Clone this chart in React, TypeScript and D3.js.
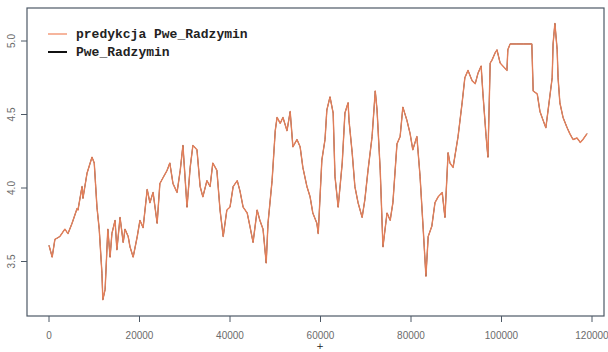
import React from 'react';
import * as d3 from 'd3';

// readings (index in thousands, value)
const xs = [
  0, 0.7, 1.3, 2.4, 3.5, 4.2, 5.1, 6.2, 6.4, 7.3, 7.5, 8.4, 9.1, 9.5, 10.0, 10.6, 11.1, 11.7, 11.9, 12.4,
  13.0, 13.5, 13.9, 14.6, 15.0, 15.7, 16.4, 16.8, 17.5, 17.9, 18.6, 19.5, 20.1, 20.8, 21.7, 22.3, 23.0, 23.9, 24.5, 25.2,
  26.1, 26.7, 27.4, 28.3, 29.0, 29.6, 30.5, 31.2, 31.8, 32.7, 33.4, 34.0, 34.9, 35.6, 36.2, 37.1, 37.8, 38.5, 39.3, 40.0,
  40.7, 41.6, 42.2, 42.9, 43.8, 44.4, 45.1, 46.0, 46.6, 47.3, 48.0, 48.4, 49.3, 50.0, 50.4, 51.1, 51.7, 52.6, 53.3, 53.9,
  54.8, 55.5, 56.1, 57.0, 57.7, 58.3, 59.2, 59.5, 60.3, 61.0, 61.4, 62.1, 62.8, 63.2, 63.9, 64.8, 65.4, 66.1, 66.3, 67.0,
  67.6, 68.3, 69.2, 69.8, 70.5, 71.4, 72.1, 72.5, 73.2, 73.8, 74.7, 75.4, 76.0, 76.9, 77.6, 78.2, 79.1, 79.8, 80.4, 81.3,
  82.0, 82.7, 83.3, 83.8, 84.6, 85.3, 86.0, 86.9, 87.5, 88.2, 88.6, 89.3, 90.4, 91.3, 91.9, 92.6, 93.5, 94.2, 94.8, 95.5,
  95.9, 96.6, 97.0, 97.5, 97.9, 98.6, 99.0, 99.7, 100.3, 101.2, 101.4, 101.9, 103.4, 104.8, 106.7, 107.0, 107.9, 108.5, 109.2, 109.8,
  110.3, 111.2, 111.4, 111.8, 112.3, 112.5, 112.9, 113.6, 114.5, 115.1, 115.8, 116.7, 117.4, 118.0, 118.9,
];
const values = [
  3.61, 3.53, 3.65, 3.67, 3.72, 3.69, 3.76, 3.86, 3.85, 4.01, 3.93, 4.10, 4.17, 4.21, 4.17, 3.87, 3.72, 3.42, 3.24, 3.31,
  3.72, 3.53, 3.69, 3.78, 3.58, 3.80, 3.63, 3.72, 3.67, 3.60, 3.53, 3.67, 3.78, 3.73, 3.99, 3.90, 3.97, 3.76, 4.03, 4.07,
  4.12, 4.17, 4.03, 3.97, 4.12, 4.29, 3.87, 4.14, 4.29, 4.26, 4.01, 3.94, 4.05, 4.01, 4.17, 4.12, 3.85, 3.67, 3.85, 3.87,
  4.01, 4.05, 3.98, 3.87, 3.83, 3.74, 3.63, 3.85, 3.78, 3.72, 3.49, 3.76, 4.05, 4.39, 4.48, 4.44, 4.48, 4.39, 4.52, 4.28,
  4.33, 4.28, 4.14, 4.01, 3.94, 3.83, 3.76, 3.69, 4.19, 4.33, 4.53, 4.62, 4.51, 4.08, 3.87, 4.17, 4.51, 4.58, 4.46, 4.24,
  4.01, 3.90, 3.80, 3.92, 4.12, 4.35, 4.66, 4.53, 4.12, 3.60, 3.83, 3.78, 3.90, 4.30, 4.35, 4.55, 4.46, 4.37, 4.26, 4.35,
  4.08, 3.72, 3.40, 3.67, 3.74, 3.90, 3.94, 3.97, 3.80, 4.24, 4.17, 4.14, 4.35, 4.58, 4.75, 4.80, 4.73, 4.71, 4.78, 4.83,
  4.64, 4.35, 4.21, 4.85, 4.87, 4.92, 4.94, 4.85, 4.83, 4.80, 4.94, 4.98, 4.98, 4.98, 4.98, 4.66, 4.64, 4.52, 4.46, 4.41,
  4.53, 4.75, 4.98, 5.12, 4.94, 4.75, 4.58, 4.48, 4.41, 4.37, 4.33, 4.34, 4.31, 4.33, 4.37,
];

const xTicks = [0, 20000, 40000, 60000, 80000, 100000, 120000];
const yTicks = [3.5, 4.0, 4.5, 5.0];
const legendLabels = ['predykcja Pwe_Radzymin', 'Pwe_Radzymin'];
const legendColors = ['#f0845c', '#111111'];

const W = 608;
const H = 352;
const box = { left: 27, top: 8, right: 604, bottom: 316 };

const App = () => {
  const x = d3.scaleLinear().domain([0, 120000]).range([49, 592]);
  const y = d3.scaleLinear().domain([4.0, 5.0]).range([188, 41]);

  const pts: [number, number][] = xs.map((v, i) => [v * 1000, values[i]]);
  const line = d3
    .line<[number, number]>()
    .x((d) => x(d[0]))
    .y((d) => y(d[1]));
  const path = line(pts) || '';

  const axisColor = '#4d5966';
  const labelColor = '#6b6b6b';

  return (
    <svg
      width={W}
      height={H}
      style={{ position: 'absolute', left: 0, top: 0, background: '#fff' }}
    >
      <rect
        x={box.left}
        y={box.top}
        width={box.right - box.left}
        height={box.bottom - box.top}
        fill="none"
        stroke={axisColor}
        strokeWidth={1.2}
      />

      {xTicks.map((t) => (
        <g key={'x' + t}>
          <line x1={x(t)} x2={x(t)} y1={box.bottom} y2={box.bottom + 6} stroke={axisColor} />
          <text
            x={x(t)}
            y={339}
            textAnchor="middle"
            fontSize={10}
            fontFamily="Liberation Sans, Arial, sans-serif"
            fill={labelColor}
          >
            {t}
          </text>
        </g>
      ))}

      {yTicks.map((t) => (
        <g key={'y' + t}>
          <line x1={box.left - 6} x2={box.left} y1={y(t)} y2={y(t)} stroke={axisColor} />
          <text
            transform={`translate(15, ${y(t)}) rotate(-90)`}
            textAnchor="middle"
            fontSize={10}
            fontFamily="Liberation Sans, Arial, sans-serif"
            fill={labelColor}
          >
            {t.toFixed(1)}
          </text>
        </g>
      ))}

      {/* actual */}
      <path d={path} fill="none" stroke="#222" strokeWidth={1} />
      {/* prediction */}
      <path d={path} fill="none" stroke="#f0845c" strokeWidth={1.4} strokeLinejoin="round" opacity={0.92} />

      {legendLabels.map((l, i) => (
        <g key={l} transform={`translate(0, ${34 + i * 18})`}>
          <line x1={48} x2={67} y1={0} y2={0} stroke={legendColors[i]} strokeWidth={i === 0 ? 1.2 : 2} />
          <text
            x={76}
            y={4}
            fontSize={13}
            fontWeight="bold"
            fontFamily="Liberation Mono, DejaVu Sans Mono, monospace"
            fill="#222"
          >
            {l}
          </text>
        </g>
      ))}

      <text x={320} y={349} textAnchor="middle" fontSize={9} fill="#222" fontFamily="DejaVu Sans, sans-serif">
        +
      </text>
    </svg>
  );
};

export default App;
